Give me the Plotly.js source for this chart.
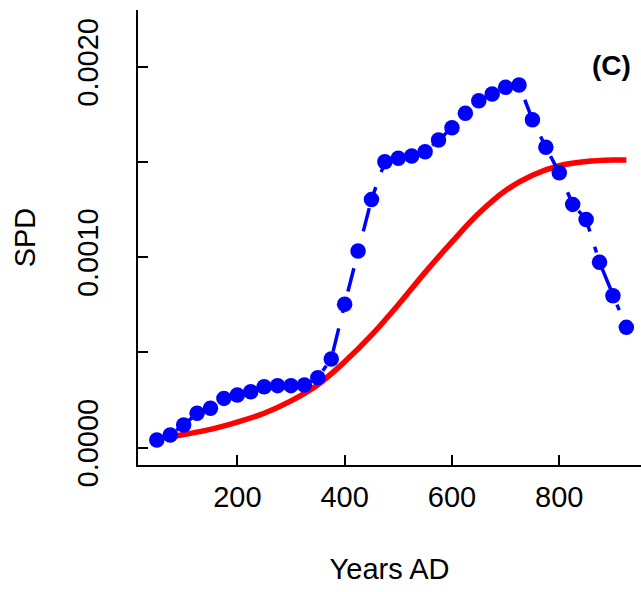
<!DOCTYPE html>
<html>
<head>
<meta charset="utf-8">
<script src="https://cdn.plot.ly/plotly-3.0.1.min.js"></script>
<style>html,body{margin:0;padding:0;background:#fff;}#chart{width:641px;height:592px;}</style>
</head>
<body>
<div id="chart"></div>
<script>
// Blue SPD points (every 25 years)
const spdYears = [50,75,100,125,150,175,200,225,250,275,300,325,350,375,400,425,450,475,500,525,550,575,600,625,650,675,700,725,750,775,800,825,850,875,900,925];
const spdValues = [0.000039,0.000066,0.000118,0.000180,0.000206,0.000258,0.000276,0.000293,0.000319,0.000325,0.000325,0.000328,0.000367,0.000465,0.000752,0.001032,0.001303,0.001501,0.001519,0.001531,0.001554,0.001615,0.001679,0.001756,0.001821,0.001857,0.001892,0.001904,0.001722,0.001577,0.001443,0.001277,0.001198,0.000973,0.000797,0.000631];

// Red fitted curve
const fitYears = [75,100,150,200,250,300,350,400,450,500,550,600,650,700,750,800,850,900,925];
const fitValues = [0.000055,0.000068,0.000095,0.000133,0.000180,0.000245,0.000330,0.000450,0.000590,0.000750,0.000920,0.001080,0.001230,0.001350,0.001430,0.001480,0.001502,0.001510,0.001510];

const yTickVals = [0,0.0005,0.0010,0.0015,0.0020];
const yTickText = ['0.0000','','0.0010','','0.0020'];
const xTickVals = [200,400,600,800];
const xTickText = ['200','400','600','800'];
const panelLabel = '(C)';

const font = 'Liberation Sans, Arial, Helvetica, sans-serif';

const traces = [
  {x: fitYears, y: fitValues, type: 'scatter', mode: 'lines',
   line: {color: '#FF0000', width: 5.5, shape: 'spline', smoothing: 1.0},
   hoverinfo: 'skip', cliponaxis: false},
  {x: spdYears, y: spdValues, type: 'scatter', mode: 'lines+markers',
   line: {color: '#0000FF', width: 3.5, dash: '6px,16px,24px,16px'},
   marker: {color: '#0000FF', size: 15.5},
   cliponaxis: false}
];

const layout = {
  width: 641, height: 592,
  margin: {l: 138, r: 0, t: 10, b: 127, pad: 0},
  paper_bgcolor: '#fff', plot_bgcolor: '#fff',
  showlegend: false,
  font: {family: font, size: 29, color: '#000'},
  xaxis: {
    range: [14.9, 952.3], autorange: false,
    tickvals: xTickVals, ticktext: xTickText,
    ticks: 'inside', ticklen: 10, tickwidth: 2, tickcolor: '#000',
    showline: true, linecolor: '#000', linewidth: 2,
    showgrid: false, zeroline: false,
    tickfont: {family: font, size: 29, color: '#000'},
    ticklabelstandoff: 5,
    title: {text: 'Years AD', font: {family: font, size: 29, color: '#000'}, standoff: 47},
    automargin: false
  },
  yaxis: {
    range: [-0.0000919, 0.002298], autorange: false,
    tickvals: yTickVals, ticktext: yTickText,
    tickangle: -90,
    ticks: 'inside', ticklen: 10, tickwidth: 2, tickcolor: '#000',
    showline: true, linecolor: '#000', linewidth: 2,
    showgrid: false, zeroline: false,
    tickfont: {family: font, size: 29, color: '#000'},
    ticklabelstandoff: 26,
    title: {text: 'SPD', font: {family: font, size: 29, color: '#000'}, standoff: 28},
    automargin: false
  },
  annotations: [
    {text: '<b>' + panelLabel + '</b>', xref: 'paper', yref: 'paper', x: 0.942, y: 0.877,
     xanchor: 'center', yanchor: 'middle', showarrow: false,
     font: {family: font, size: 28, color: '#000'}}
  ]
};

Plotly.newPlot('chart', traces, layout, {staticPlot: true, displayModeBar: false});
</script>
</body>
</html>
